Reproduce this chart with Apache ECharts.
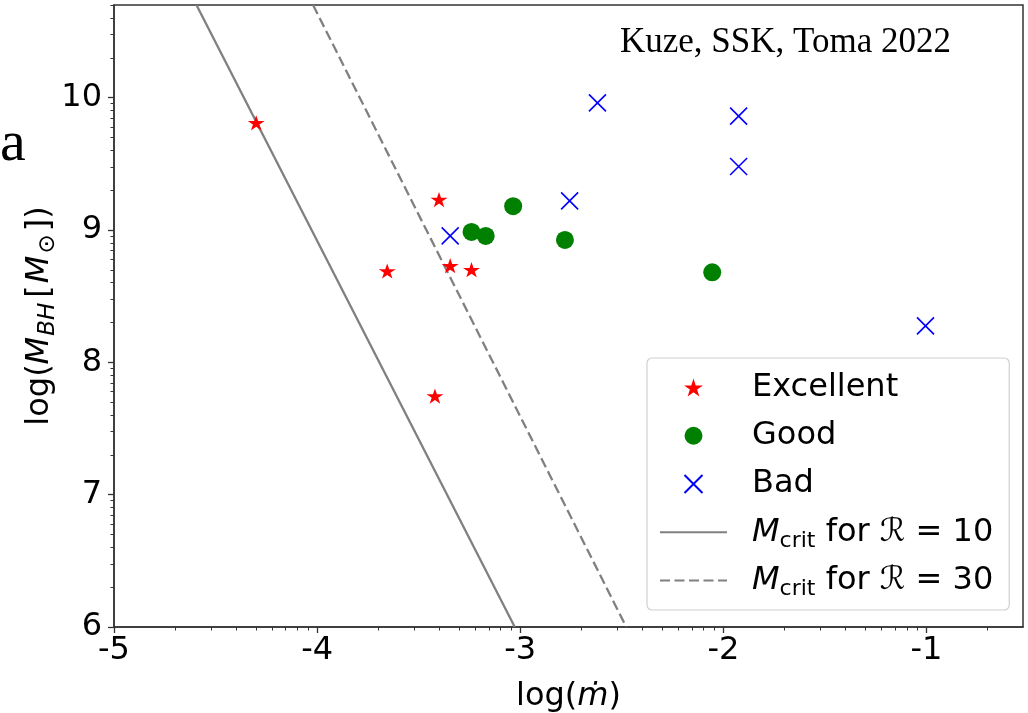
<!DOCTYPE html>
<html>
<head>
<meta charset="utf-8">
<script src="https://cdn.jsdelivr.net/npm/echarts@6/dist/echarts.min.js"></script>
<style>
html,body{margin:0;padding:0;background:#fff;}
#chart{width:1028px;height:713px;}
</style>
</head>
<body>
<div id="chart"></div>
<script>
// log(mdot) and log(M_BH / M_sun) of each source, grouped by fit quality
const excellentX = [-4.30, -3.40, -3.655, -3.345, -3.24, -3.42];
const excellentY = [9.81, 9.23, 8.69, 8.73, 8.70, 7.745];
const goodX = [-3.035, -3.24, -3.17, -2.78, -2.055];
const goodY = [9.18, 8.985, 8.955, 8.925, 8.68];
const badX = [-3.345, -2.62, -2.757, -1.925, -1.925, -1.005];
const badY = [8.955, 9.96, 9.22, 9.86, 9.48, 8.275];

// critical black-hole mass lines (end points across the frame)
const crit10X = [-4.594, -3.027];
const crit10Y = [10.7, 6.0];
const crit30X = [-4.02, -2.478];
const crit30Y = [10.7, 6.0];

// axis ranges and labelled ticks
const xRange = [-5, -0.525];
const yRange = [6, 10.7];
const xTicks = [-5, -4, -3, -2, -1];
const yTicks = [6, 7, 8, 9, 10];

const seriesNames = ['Excellent', 'Good', 'Bad', 'crit10', 'crit30'];
const legendText = {
  Excellent: '{n|Excellent}',
  Good: '{n|Good}',
  Bad: '{n|Bad}',
  crit10: '{it|M}{sub|crit}{n| for }{scr|\u211B}{n| = 10}',
  crit30: '{it|M}{sub|crit}{n| for }{scr|\u211B}{n| = 30}'
};

// log-style minor ticks: n + log10(k), k = 2..9
function minorTicks(range) {
  const out = [];
  for (let n = Math.floor(range[0]) - 1; n <= Math.ceil(range[1]); n++) {
    for (let k = 2; k <= 9; k++) {
      const v = n + Math.log10(k);
      if (v >= range[0] && v <= range[1]) out.push(v);
    }
  }
  return out;
}

const pairs = (xs, ys) => xs.map((x, i) => [x, ys[i]]);

const FONT = 'DejaVu Sans';
const richBase = {
  n:   { fontFamily: FONT, fontSize: 32, lineHeight: 40, color: '#000' },
  br:  { fontFamily: FONT, fontSize: 32, lineHeight: 40, color: '#000', padding: [0, 2, 0, 2] },
  it:  { fontFamily: FONT, fontSize: 32, lineHeight: 40, fontStyle: 'italic', color: '#000' },
  scr: { fontFamily: FONT, fontSize: 32, lineHeight: 40, fontStyle: 'italic', color: '#000' },
  sub: { fontFamily: FONT, fontSize: 22, lineHeight: 24, verticalAlign: 'bottom', color: '#000' },
  subit: { fontFamily: FONT, fontSize: 23, lineHeight: 24, verticalAlign: 'bottom', fontStyle: 'italic', color: '#000', padding: [0, 3, 0, 1] },
  sun: { fontFamily: FONT, fontSize: 23, lineHeight: 24, verticalAlign: 'bottom', color: '#000', padding: [0, 3, 0, 2] }
};

const STAR = 'path://M100,0 L122.45,69.1 L195.11,69.1 L136.33,111.8 L158.78,180.9 L100,138.2 L41.22,180.9 L63.67,111.8 L4.89,69.1 L77.55,69.1 Z';
const CROSS = 'path://M0,0 L10,10 M10,0 L0,10';

const spine = { color: '#333', width: 1.5 };
const labelStyle = { fontFamily: FONT, fontSize: 32, color: '#000' };
const hiddenMarker = { color: 'rgba(0,0,0,0)', borderWidth: 0, opacity: 0 };

const chart = echarts.init(document.getElementById('chart'), null, { renderer: 'canvas' });
chart.setOption({
  animation: false,
  backgroundColor: '#fff',
  grid: {
    left: 114, top: 5, right: 5, bottom: 86,
    show: true, borderColor: '#333', borderWidth: 1.5,
    containLabel: false, outerBoundsMode: 'none'
  },
  xAxis: [{
    type: 'value', min: xRange[0], max: xRange[1], position: 'bottom',
    name: '{n|log(}{it|\u1E41}{n|)}', nameLocation: 'middle', nameGap: 50,
    nameTextStyle: { rich: richBase },
    axisLine: { show: true, onZero: false, lineStyle: spine },
    axisTick: { show: true, length: 6, customValues: xTicks, lineStyle: { color: '#333', width: 1.3 } },
    axisLabel: { customValues: xTicks, margin: 8, formatter: v => String(v), ...labelStyle },
    splitLine: { show: false }
  }, {
    type: 'value', min: xRange[0], max: xRange[1], position: 'bottom',
    axisLine: { show: false },
    axisTick: { show: true, length: 3.5, customValues: minorTicks(xRange), lineStyle: { color: '#333', width: 1 } },
    axisLabel: { show: false },
    splitLine: { show: false }
  }],
  yAxis: [{
    type: 'value', min: yRange[0], max: yRange[1], position: 'left',
    name: '{n|log(}{it|M}{subit|BH}{br|[}{it|M}{sun|\u2299}{n|])}',
    nameLocation: 'middle', nameRotate: 90, nameGap: 54, nameMoveOverlap: false,
    nameTextStyle: { rich: richBase },
    axisLine: { show: true, onZero: false, lineStyle: spine },
    axisTick: { show: true, length: 6, customValues: yTicks, lineStyle: { color: '#333', width: 1.3 } },
    axisLabel: { customValues: yTicks, margin: 12, formatter: v => String(v), ...labelStyle },
    splitLine: { show: false }
  }, {
    type: 'value', min: yRange[0], max: yRange[1], position: 'left',
    axisLine: { show: false },
    axisTick: { show: true, length: 3.5, customValues: minorTicks(yRange), lineStyle: { color: '#333', width: 1 } },
    axisLabel: { show: false },
    splitLine: { show: false }
  }],
  legend: {
    orient: 'vertical', left: 647, top: 358,
    data: [
      { name: 'Excellent' },
      { name: 'Good' },
      { name: 'Bad' },
      { name: 'crit10', itemStyle: hiddenMarker },
      { name: 'crit30', itemStyle: hiddenMarker }
    ],
    itemWidth: 67, itemHeight: 18, itemGap: 8.25,
    padding: [9.5, 16, 9.5, 12],
    backgroundColor: 'rgba(255,255,255,0.8)',
    borderColor: '#d0d0d0', borderWidth: 1.2, borderRadius: 5,
    formatter: name => legendText[name],
    textStyle: { padding: [0, 0, 0, 20], height: 40, lineHeight: 40, rich: richBase }
  },
  graphic: [{
    type: 'text', left: 620, top: 25,
    style: { text: 'Kuze, SSK, Toma 2022', font: '35px "Liberation Serif"', fill: '#000' }
  }, {
    type: 'text', left: 0, top: 116,
    style: { text: 'a', font: '58px "Liberation Serif"', fill: '#000' }
  }],
  series: [{
    name: 'crit10', type: 'line', z: 1, symbol: 'none',
    data: pairs(crit10X, crit10Y),
    lineStyle: { color: '#808080', width: 2.3, type: 'solid' },
    itemStyle: { color: '#808080' }
  }, {
    name: 'crit30', type: 'line', z: 1, symbol: 'none',
    data: pairs(crit30X, crit30Y),
    lineStyle: { color: '#808080', width: 2.3, type: [10, 4.5] },
    itemStyle: { color: '#808080' }
  }, {
    name: 'Excellent', type: 'scatter', z: 3,
    symbol: STAR, symbolSize: [17, 16], symbolKeepAspect: true,
    data: pairs(excellentX, excellentY),
    itemStyle: { color: '#ff0000', opacity: 1 }
  }, {
    name: 'Good', type: 'scatter', z: 3,
    symbol: 'circle', symbolSize: 18,
    data: pairs(goodX, goodY),
    itemStyle: { color: '#008000', opacity: 1 }
  }, {
    name: 'Bad', type: 'scatter', z: 3,
    symbol: CROSS, symbolSize: 17,
    data: pairs(badX, badY),
    itemStyle: { color: 'none', borderColor: '#0000ff', borderWidth: 1.6, opacity: 1 }
  }]
});
</script>
</body>
</html>
